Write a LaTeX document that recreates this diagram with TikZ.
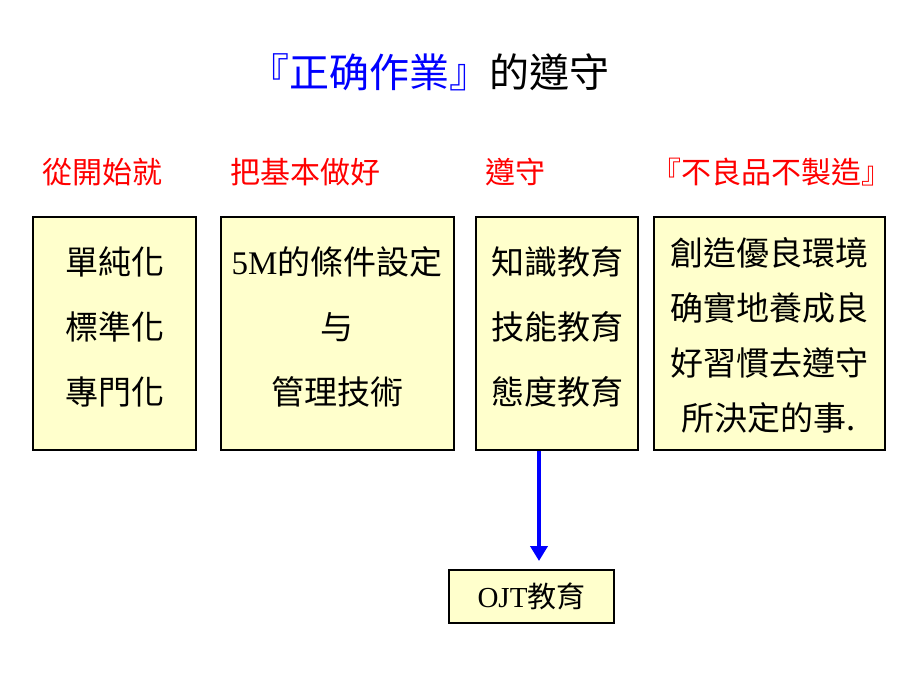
\documentclass[tikz,border=0pt]{standalone}
\usepackage{fontspec}
\setmainfont{Liberation Serif}
\newfontfamily\cjk{Noto Sans CJK TC}
\usetikzlibrary{positioning,arrows.meta}
\definecolor{paper}{HTML}{FFFFCC}
\tikzstyle{board} = [draw=black, line width=1.5pt, fill=paper, inner sep=0pt]
\tikzstyle{heading} = [text=red, font=\cjk\fontsize{30}{30}\selectfont]
\tikzstyle{lines} = [align=center, font=\cjk\fontsize{33}{65}\selectfont]

\begin{document}
\begin{tikzpicture}[x=1pt,y=-1pt]
\useasboundingbox (0,0) rectangle (900,675);

\node[font=\cjk\fontsize{40}{40}\selectfont] (title) at (429,72) {{\color{blue}『正确作業』}的遵守};

\node[heading] (start) at (102,172) {從開始就};
\node[heading] (basic) at (305,172) {把基本做好};
\node[heading] (keep) at (515,172) {遵守};
\node[heading] (nodefect) at (771,172) {『不良品不製造』};

\node[board, minimum width=163, minimum height=233] (simple) at (114.5,333.5) {};
\node[board, minimum width=233, minimum height=233] (cond) at (337.5,333.5) {};
\node[board, minimum width=162, minimum height=233] (know) at (557,333.5) {};
\node[board, minimum width=231, minimum height=233] (habit) at (769.5,333.5) {};

\node[lines] (simpletext) at (115,327) {單純化\\標準化\\專門化};
\node[lines] (condtext) at (337,327) {{\rmfamily 5M}的條件設定\\与\\管理技術};
\node[lines] (knowtext) at (557,327) {知識教育\\技能教育\\態度教育};
\node[lines, font=\cjk\fontsize{33}{55}\selectfont] (habittext) at (769,335.5)
	{創造優良環境\\确實地養成良\\好習慣去遵守\\所決定的事.};

\node[board, minimum width=165, minimum height=53, font=\fontsize{29}{29}\selectfont]
	(ojt) at (531.5,596.5) {OJT{\cjk 教育}};

\coordinate (drop) at (539,561);
\draw[blue, line width=4.5pt, -{Triangle[width=17pt,length=15pt]}] (know.south -| drop) -- (drop);

\end{tikzpicture}
\end{document}
